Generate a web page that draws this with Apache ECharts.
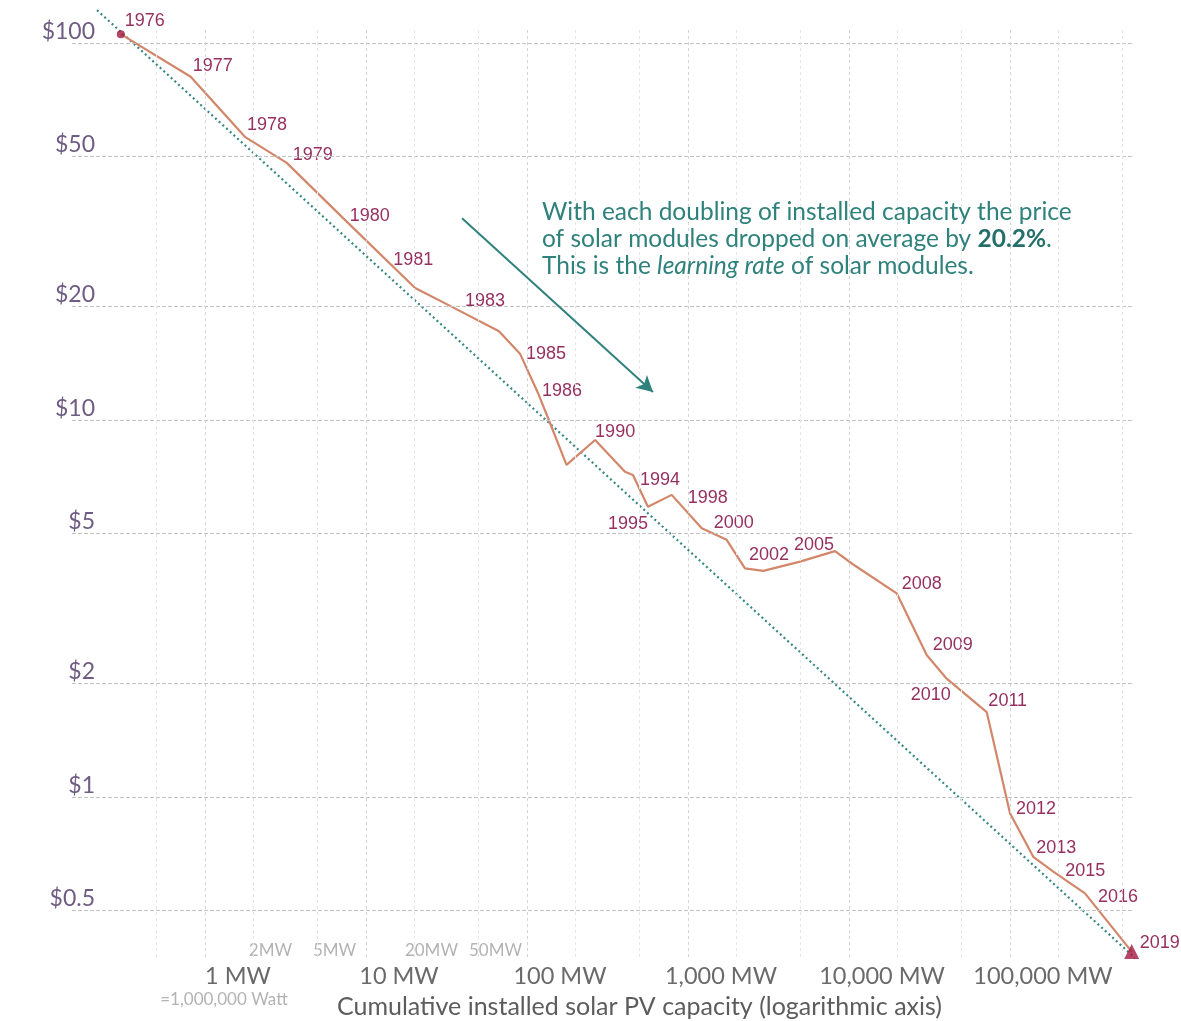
<!DOCTYPE html>
<html>
<head>
<meta charset="utf-8">
<script src="https://cdn.jsdelivr.net/npm/echarts@6/dist/echarts.min.js"></script>
<style>
html,body{margin:0;padding:0;background:#fff;}
#chart{width:1181px;height:1021px;}
</style>
</head>
<body>
<div id="chart"></div>
<script>
// ---- Data ----
const years = [1976,1977,1978,1979,1980,1981,1982,1983,1985,1986,1987,1988,1990,1993,1994,1995,1998,1999,2000,2002,2003,2004,2005,2006,2008,2009,2010,2011,2012,2013,2015,2016,2019];
const capacityMW = [0.30,0.815,1.77,3.22,7.59,20.2,34.7,67.0,90.5,117,139,176,265,406,455,564,792,1217,1739,2259,2936,4963,8185,10513,19784,30380,40440,71680,100000,139500,185800,292300,570000];
const pricePerWatt = [105.6,81.4,56.4,48.1,33.6,22.4,19.9,17.2,15.0,11.8,9.82,7.60,8.85,7.29,7.15,5.89,6.33,5.16,4.81,4.04,3.98,4.21,4.49,4.15,3.47,2.38,2.06,1.68,0.905,0.694,0.634,0.555,0.389];
const labelledYears = [1976,1977,1978,1979,1980,1981,1983,1985,1986,1990,1994,1995,1998,2000,2002,2005,2008,2009,2010,2011,2012,2013,2015,2016,2019];

// learning-curve trend line (two end points)
const trendCapacityMW = [0.2134, 1153000];
const trendPrice = [122.3, 0.2894];

// annotation arrow (start, end)
const arrowCapacityMW = [39.5, 606];
const arrowPrice = [34.3, 11.86];

// ticks
const yTicks = [0.5, 1, 2, 5, 10, 20, 50, 100];
const yTickLabels = ['$0.5','$1','$2','$5','$10','$20','$50','$100'];
const xMajorTicks = [1, 10, 100, 1000, 10000, 100000];
const xMajorLabels = ['1 MW','10 MW','100 MW','1,000 MW','10,000 MW','100,000 MW'];
const xMinorTicks = [2, 5, 20, 50];
const xMinorLabels = ['2MW','5MW','20MW','50MW'];
const xGridDecades = [1,10,100,1000,10000,100000];
const xGridMinor = [0.5,2,5,20,50,200,500,2000,5000,20000,50000,200000,500000];

// ---- styles (not data) ----
const labelOffset = {
  1976:[24,-13],1977:[22,-11],1978:[22,-12],1979:[26,-8],1980:[23,-6],1981:[-2,-28],
  1983:[-14,-30],1985:[26,0],1986:[24,-2],1990:[20,-8],1994:[27,5],1995:[-20,17],
  1998:[36,3],2000:[7,-17],2002:[24,-13],2005:[-21,-6],2008:[25,-9],2009:[26,-10],
  2010:[-16,16],2011:[21,-11],2012:[26,-4],2013:[23,-9],2015:[32,-1],2016:[33,4],2019:[28,-9]
};
const YEAR_COLOR = '#96305f';
const TEAL = '#2f817b';

function nearestIndex(arr, v){
  let best=0, bd=Infinity;
  arr.forEach((a,i)=>{const d=Math.abs(Math.log10(a)-Math.log10(v)); if(d<bd){bd=d;best=i;}});
  return bd<0.01?best:-1;
}

const mainData = years.map((y,i)=>{
  const item = {value:[capacityMW[i], pricePerWatt[i]]};
  if (labelledYears.indexOf(y) >= 0) {
    const o = labelOffset[y] || [20,-8];
    item.label = {show:true, formatter:String(y), position:[o[0]+0.5, o[1]+0.5]};
  }
  return item;
});

const last = years.length-1;
const chart = echarts.init(document.getElementById('chart'), null, {renderer:'canvas'});
const option = {
  backgroundColor:'#ffffff',
  animation:false,
  grid:{left:72, top:30, width:1061, height:927, containLabel:false, outerBoundsMode:'none'},
  xAxis:[{
    type:'log', logBase:10, min:0.1493, max:580700,
    axisLine:{show:false}, axisTick:{show:false}, splitLine:{show:false},
    axisLabel:{
      customValues: xMajorTicks,
      margin:6,
      color:'#6a6a6a', fontFamily:'Lato', fontSize:23,
      padding:[0,0,0,66],
      formatter:function(v){
        const i = nearestIndex(xMajorTicks, v);
        if (i<0) return '';
        if (i===0) return '{a|'+xMajorLabels[i]+'}\n{b|=1,000,000 Watt}';
        return '{a|'+xMajorLabels[i]+'}';
      },
      rich:{
        a:{color:'#6a6a6a', fontFamily:'Lato', fontSize:23.5, lineHeight:26},
        b:{color:'#b3b3b3', fontFamily:'Lato', fontSize:17, lineHeight:22, padding:[0,28,0,0]}
      }
    },
    name:'Cumulative installed solar PV capacity (logarithmic axis)',
    nameLocation:'middle', nameGap:37, nameMoveOverlap:false,
    nameTextStyle:{color:'#5c5c5c', fontFamily:'Lato', fontSize:25, padding:[0,0,0,74], verticalAlign:'top'}
  },{
    type:'log', logBase:10, min:0.1493, max:580700, position:'bottom',
    axisLine:{show:false}, axisTick:{show:false}, splitLine:{show:false},
    axisLabel:{
      customValues: xMinorTicks, inside:true, margin:-2,
      color:'#b3b3b3', fontFamily:'Lato', fontSize:17,
      padding:[0,0,0,34],
      formatter:function(v){ const i=nearestIndex(xMinorTicks,v); return i<0?'':xMinorLabels[i]; }
    }
  }],
  yAxis:{
    type:'log', logBase:10, min:0.3763, max:108.3,
    axisLine:{show:false}, axisTick:{show:false}, splitLine:{show:false},
    axisLabel:{
      customValues: yTicks, margin:-23, align:'right', verticalAlign:'bottom',
      color:'#6e5c82', fontFamily:'Lato', fontSize:23,
      formatter:function(v){ const i=nearestIndex(yTicks,v); return i<0?'':yTickLabels[i]; }
    }
  },
  series:[
    { // grid lines
      type:'line', data:[], silent:true, z:1,
      markLine:{
        silent:true, symbol:['none','none'], label:{show:false}, animation:false,
        lineStyle:{color:'#c2c2c2', width:1, type:[4,2]},
        data: yTicks.map(v=>({yAxis:v}))
      }
    },
    {
      type:'line', data:[], silent:true, z:1,
      markLine:{
        silent:true, symbol:['none','none'], label:{show:false}, animation:false,
        lineStyle:{color:'#d4d4d4', width:1, type:[3,3]},
        data: xGridDecades.map(v=>({xAxis:v}))
      }
    },
    {
      type:'line', data:[], silent:true, z:1,
      markLine:{
        silent:true, symbol:['none','none'], label:{show:false}, animation:false,
        lineStyle:{color:'#e6e6e6', width:1, type:[3,3]},
        data: xGridMinor.map(v=>({xAxis:v}))
      }
    },
    { // trend line
      type:'line', z:2, clip:false, symbol:'none', silent:true,
      data: trendCapacityMW.map((x,i)=>[x, trendPrice[i]]),
      lineStyle:{color:'#358784', width:2.2, type:[2,3]},
      markLine:{
        silent:true, symbol:['none','arrow'], symbolSize:[13,16], label:{show:false},
        lineStyle:{color:TEAL, width:2, type:'solid'},
        data:[[{coord:[arrowCapacityMW[0], arrowPrice[0]]},{coord:[arrowCapacityMW[1], arrowPrice[1]]}]]
      }
    },
    { // main series
      type:'line', z:3, data: mainData, showAllSymbol:true,
      symbol:'circle', symbolSize:1,
      itemStyle:{color:'rgba(0,0,0,0)'},
      lineStyle:{color:'#d2866a', width:2.2},
      label:{show:false, align:'center', verticalAlign:'middle',
             color:YEAR_COLOR, fontFamily:'Liberation Sans', fontSize:18},
      labelLayout:{hideOverlap:false}
    },
    { // end markers
      type:'scatter', z:4,
      data:[
        {value:[capacityMW[0], pricePerWatt[0]], symbol:'circle', symbolSize:8},
        {value:[capacityMW[last], pricePerWatt[last]], symbol:'triangle', symbolSize:15}
      ],
      itemStyle:{color:'#a3183f'}
    }
  ],
  graphic:[{
    type:'text', left:542, top:199, silent:true, z:10,
    style:{
      text:'With each doubling of installed capacity the price\nof solar modules dropped on average by {b|20.2%}.\nThis is the {i|learning rate} of solar modules.',
      fill:TEAL, font:'24.5px Lato', lineHeight:27,
      rich:{
        b:{fill:'#256f6a', fontFamily:'Lato', fontSize:24.5, fontWeight:'bold', lineHeight:27},
        i:{fill:TEAL, fontFamily:'Lato', fontSize:24.5, fontStyle:'italic', lineHeight:27}
      }
    }
  }]
};
chart.setOption(option);
</script>
</body>
</html>
